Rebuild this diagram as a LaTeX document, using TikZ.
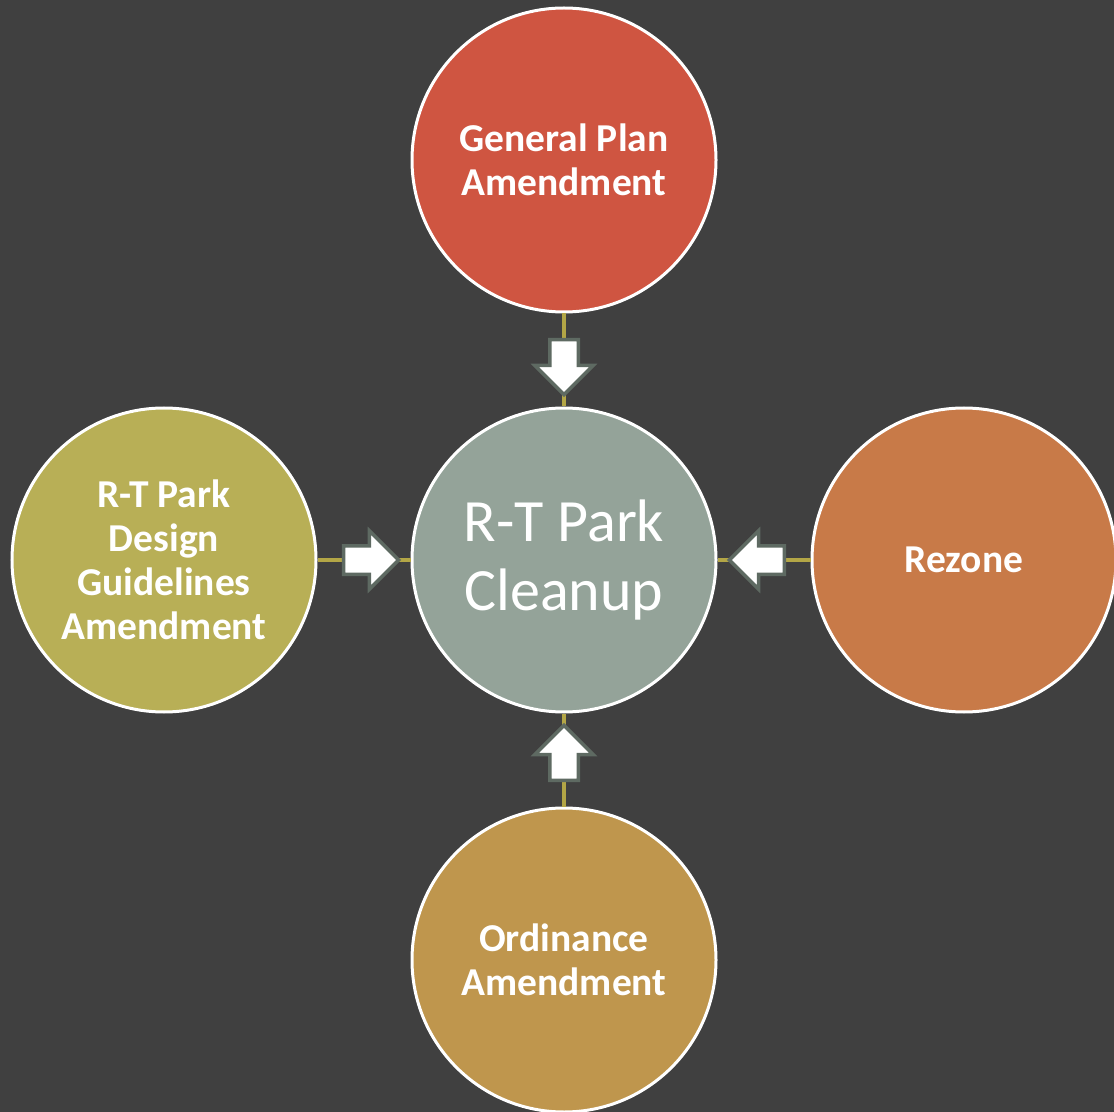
\documentclass[tikz,border=0pt]{standalone}
\usepackage{fontspec}
\setmainfont{Carlito}
\usetikzlibrary{shapes.arrows}

\definecolor{backdrop}{HTML}{404040}
\definecolor{plancolor}{HTML}{CF5541}
\definecolor{cleanupcolor}{HTML}{94A399}
\definecolor{guidecolor}{HTML}{B8AF56}
\definecolor{rezonecolor}{HTML}{C87A48}
\definecolor{ordcolor}{HTML}{BF964D}
\definecolor{linkolive}{HTML}{B3A646}
\definecolor{arrowgray}{HTML}{5E6A62}

\begin{document}
\begin{tikzpicture}[x=0.5pt,y=-0.5pt,
    stage/.style={circle, draw=white, line width=1.5pt, minimum size=152pt, inner sep=0pt,
      text=white, align=center, font=\bfseries\fontsize{19.75}{22}\selectfont},
    link/.style={draw=linkolive, line width=1.6pt},
    push/.style={single arrow, draw=arrowgray, fill=white, line width=1.75pt,
      inner xsep=0pt, inner ysep=6.25pt, single arrow head extend=7.5pt,
      minimum height=27.5pt, sloped, allow upside down=true}]
        \fill[backdrop] (0,0) rectangle (1114,1112);
        \useasboundingbox (0,0) rectangle (1114,1112);

        \node[stage, fill=plancolor] (plan) at (564,160) {General Plan\\Amendment};
        \node[stage, fill=cleanupcolor, font=\fontsize{30}{34.5}\selectfont] (cleanup) at (564,560) {R-T Park\\Cleanup};
        \node[stage, fill=guidecolor] (guide) at (164,560) {R-T Park\\Design\\Guidelines\\Amendment};
        \node[stage, fill=rezonecolor] (rezone) at (964,560) {Rezone};
        \node[stage, fill=ordcolor] (ordinance) at (564,960) {Ordinance\\Amendment};

        \path[link] (plan) -- node[push] {} (cleanup);
        \path[link] (guide) -- node[push] {} (cleanup);
        \path[link] (rezone) -- node[push] {} (cleanup);
        \path[link] (ordinance) -- node[push] {} (cleanup);
    \end{tikzpicture}
\end{document}
